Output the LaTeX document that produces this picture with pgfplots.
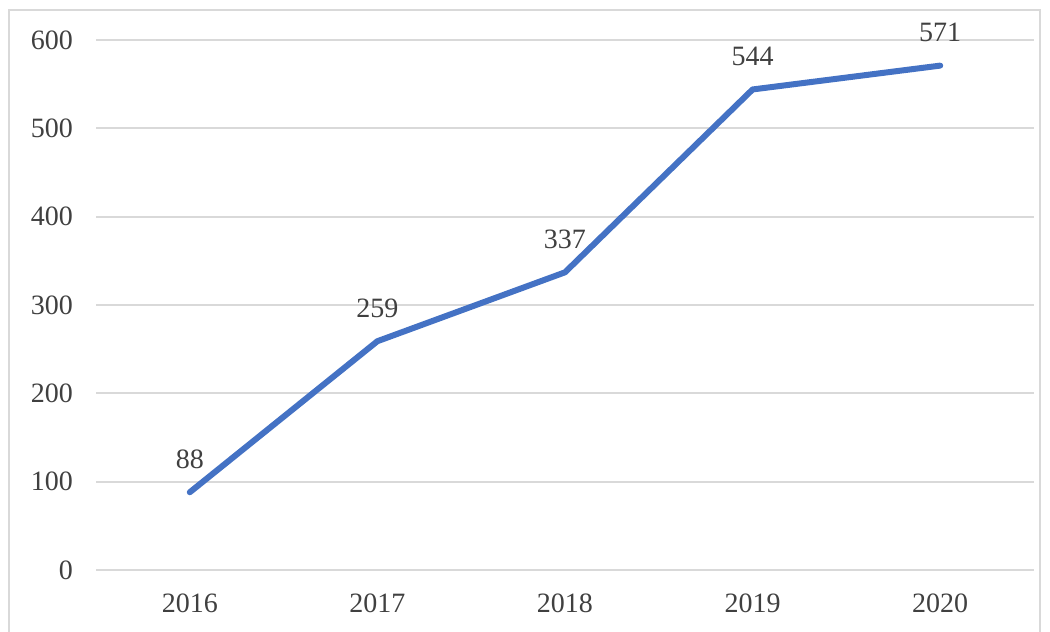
\documentclass[border=0pt]{standalone}
\usepackage{fontspec}
\setmainfont{Liberation Serif}
\usepackage{pgfplots}
\pgfplotsset{compat=1.18}
\definecolor{linecolor}{HTML}{4472C4}
\definecolor{gridcolor}{HTML}{D9D9D9}
\definecolor{labelcolor}{HTML}{404040}

\begin{document}
\begin{tikzpicture}
% picture size: 1050x632 px at 0.5pt per px
\clip (-48pt,-31pt) rectangle (477pt,285pt);
\draw[gridcolor, line width=0.6pt] (-43.5pt,-40pt) rectangle (472pt,280pt);
\begin{axis}[
    at={(0pt,0pt)}, anchor=south west,
    scale only axis,
    width=469pt, height=265pt,
    xmin=-0.5, xmax=4.5,
    ymin=0, ymax=600,
    xtick={0,1,2,3,4},
    xticklabels={2016,2017,2018,2019,2020},
    ytick={0,100,200,300,400,500,600},
    axis line style={draw=none},
    major tick length=0pt,
    ymajorgrids,
    grid style={gridcolor, line width=1pt},
    /pgf/number format/assume math mode=true,
    tick label style={font=\fontsize{14}{16}\selectfont, text=labelcolor},
    yticklabel style={xshift=-8pt},
    xticklabel style={yshift=-8.5pt},
    clip=false,
]
\addplot[
    color=linecolor,
    line width=3pt,
    mark=none,
    line join=round,
    line cap=round,
    nodes near coords,
    every node near coord/.append style={font=\fontsize{14}{16}\selectfont, text=labelcolor, yshift=7pt},
] coordinates {
    (0, 88)
    (1, 259)
    (2, 337)
    (3, 544)
    (4, 571)
};
\end{axis}
\end{tikzpicture}
\end{document}
